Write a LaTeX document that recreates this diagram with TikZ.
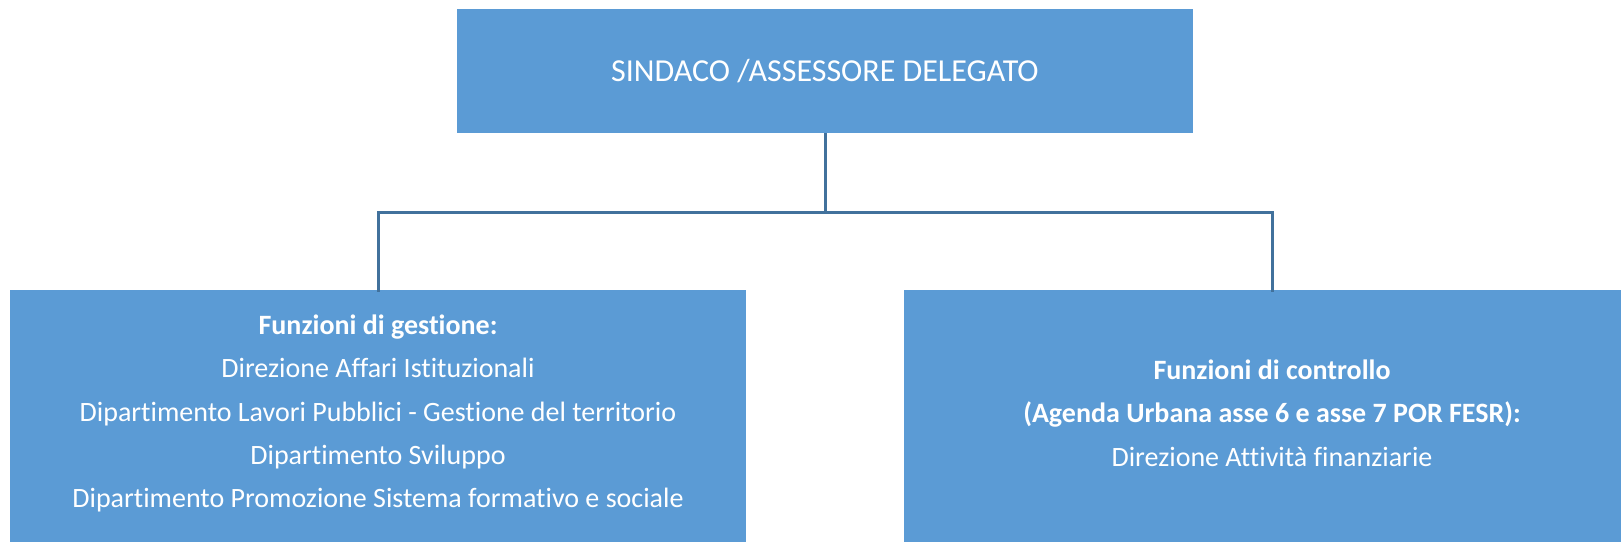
\documentclass[tikz,border=0pt]{standalone}
\usepackage{fontspec}
\setmainfont{Carlito}[Ligatures={NoCommon,NoRare,NoDiscretionary}]
\definecolor{boxfill}{HTML}{5B9BD5}
\definecolor{linecol}{HTML}{41719C}
\tikzset{
  orgbox/.style={fill=boxfill, draw=none, inner sep=0pt, anchor=center},
  boxtext/.style={text=white, align=center, inner sep=0pt, font=\fontsize{28}{43.3}\selectfont},
  conn/.style={draw=linecol, line width=3pt}
}
\begin{document}
\begin{tikzpicture}[x=1pt,y=-1pt]
\useasboundingbox (0,0) rectangle (1621,542);
\clip (0,0) rectangle (1621,542);
\node[orgbox, minimum width=736pt, minimum height=124pt] (top) at (825,71) {};
\node[text=white, inner sep=0pt, font=\fontsize{32}{36}\selectfont] (toptext) at (825,71) {SINDACO /ASSESSORE DELEGATO};
\node[orgbox, minimum width=736pt, minimum height=252pt] (left) at (378,416) {};
\node[orgbox, minimum width=736pt, minimum height=252pt] (right) at (1272,416) {};
\node[boxtext] (lefttext) at (378,413.5) {\textbf{Funzioni di gestione:}\\Direzione Affari Istituzionali\\Dipartimento Lavori Pubblici - Gestione del territorio\\Dipartimento Sviluppo\\Dipartimento Promozione Sistema formativo e sociale};
\node[boxtext] (righttext) at (1272,413) {\textbf{Funzioni di controllo}\\\textbf{(Agenda Urbana asse 6 e asse 7 POR FESR):}\\Direzione Attività finanziarie};
\coordinate (bus) at (825,212);
\draw[conn] (top.south) -- (bus);
\draw[conn] ([yshift=-2pt]left.north) |- (bus) -| ([yshift=-2pt]right.north);
\end{tikzpicture}
\end{document}
